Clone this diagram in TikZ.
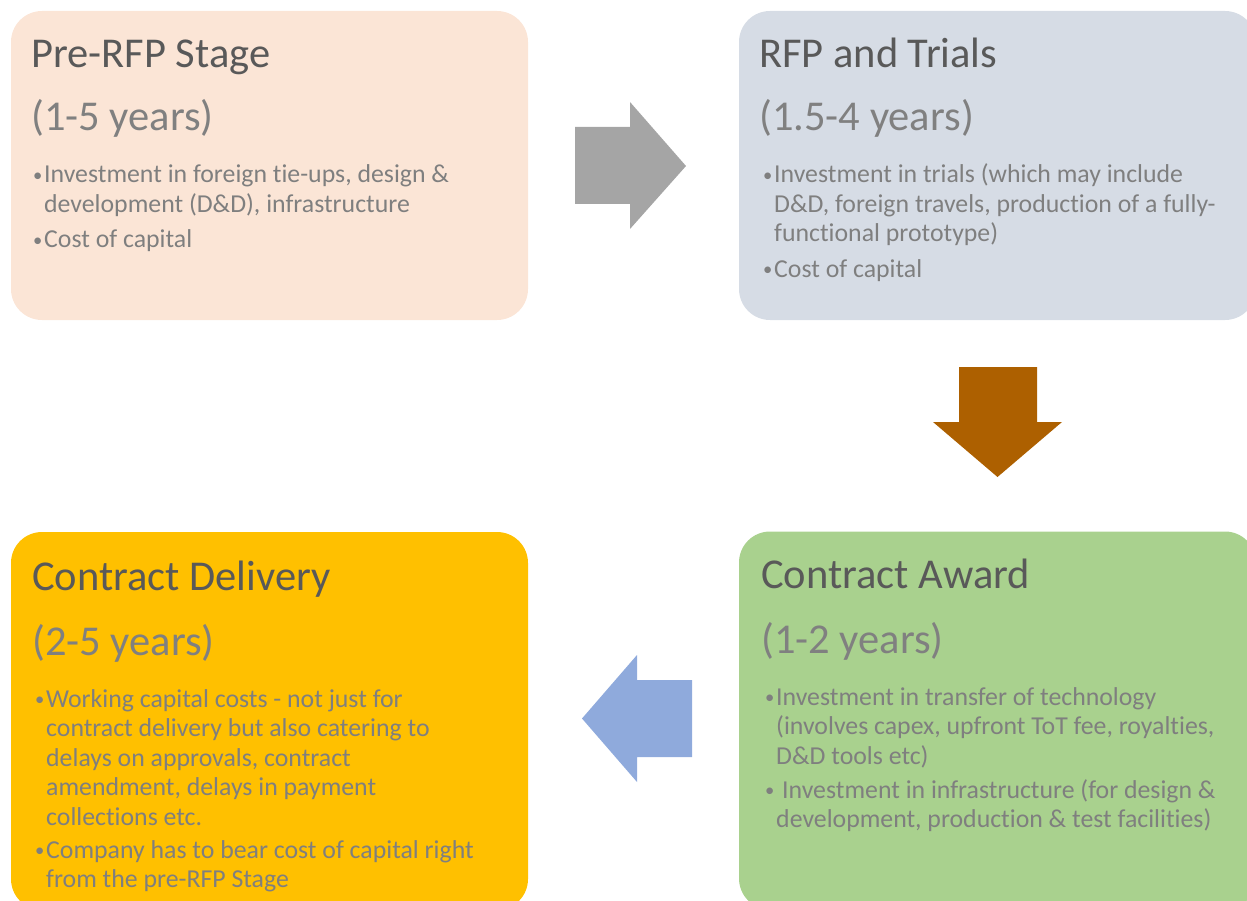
\documentclass[tikz,border=0pt]{standalone}
\usepackage{fontspec}
\setmainfont{Carlito}[Ligatures={NoCommon}]
\usepackage{graphicx}
\definecolor{boxA}{HTML}{FBE5D6}
\definecolor{boxB}{HTML}{D6DCE5}
\definecolor{boxC}{HTML}{FFC000}
\definecolor{boxD}{HTML}{A9D18E}
\definecolor{arrGray}{HTML}{A5A5A5}
\definecolor{arrBrown}{HTML}{AD6000}
\definecolor{arrBlue}{HTML}{8FAADC}
\definecolor{titleCol}{HTML}{595959}
\definecolor{yearCol}{HTML}{808080}
\definecolor{bulCol}{HTML}{7F7F7F}
\newcommand\mybul[1]{\makebox[11pt][l]{\raisebox{1.8pt}{\scalebox{0.72}{\textbullet}}}\begin{tabular}[t]{@{}l@{}}#1\end{tabular}}
\begin{document}
\begin{tikzpicture}[x=1pt,y=-1pt,
  stagebox/.style={rounded corners=31pt, minimum width=517pt, inner sep=0pt, draw=none},
  titletext/.style={anchor=base west, inner sep=0pt, text=titleCol, font=\fontsize{42.5}{50}\selectfont},
  yeartext/.style={anchor=base west, inner sep=0pt, text=yearCol, font=\fontsize{42.5}{50}\selectfont},
  bultext/.style={anchor=base west, inner sep=0pt, text=bulCol, font=\fontsize{25.8}{29.5}\selectfont}]
\useasboundingbox (0,0) rectangle (1247,901);
\clip (0,0) rectangle (1247,901);
% boxes
\node[stagebox, fill=boxA, minimum height=309pt] (b1) at (269.5,165.5) {};
\node[stagebox, fill=boxB, minimum height=309pt] (b2) at (997.5,165.5) {};
\node[stagebox, fill=boxC, minimum height=378pt] (b3) at (269.5,721) {};
\node[stagebox, fill=boxD, minimum height=378pt] (b4) at (997.5,720.5) {};
% arrows
\fill[arrGray] (575,127) -- (630,127) -- (630,102) -- (686,166) -- (630,229) -- (630,204) -- (575,204) -- cycle;
\fill[arrBrown] (959,367) -- (1037,367) -- (1037,422) -- (1062,422) -- (997.5,477) -- (933,422) -- (959,422) -- cycle;
\fill[arrBlue] (692,680) -- (637,680) -- (637,655) -- (582,718.5) -- (637,782) -- (637,757) -- (692,757) -- cycle;
% box 1
\node[titletext] (t1) at (31,68) {Pre-RFP Stage};
\node[yeartext] (y1) at (31,131) {(1-5 years)};
\node[bultext] (p1a) at (33,183) {\mybul{Investment in foreign tie-ups, design \&\\development (D\&D), infrastructure}};
\node[bultext] (p1b) at (33,248) {\mybul{Cost of capital}};
% box 2
\node[titletext] (t2) at (759,68) {RFP and Trials};
\node[yeartext] (y2) at (759,131) {(1.5-4 years)};
\node[bultext] (p2a) at (763,183) {\mybul{Investment in trials (which may include\\D\&D, foreign travels, production of a fully-\\functional prototype)}};
\node[bultext] (p2b) at (763,277) {\mybul{Cost of capital}};
% box 3
\node[titletext] (t3) at (32,590) {Contract Delivery};
\node[yeartext] (y3) at (32,655) {(2-5 years)};
\node[bultext] (p3a) at (35,707) {\mybul{Working capital costs - not just for\\contract delivery but also catering to\\delays on approvals, contract\\amendment, delays in payment\\collections etc.}};
\node[bultext] (p3b) at (35,858) {\mybul{Company has to bear cost of capital right\\from the pre-RFP Stage}};
% box 4
\node[titletext] (t4) at (761,588) {Contract Award};
\node[yeartext] (y4) at (761,653) {(1-2 years)};
\node[bultext] (p4a) at (765,705) {\mybul{Investment in transfer of technology\\(involves capex, upfront ToT fee, royalties,\\D\&D tools etc)}};
\node[bultext] (p4b) at (765,798) {\mybul{\hspace{6pt}Investment in infrastructure (for design \&\\development, production \& test facilities)}};
\end{tikzpicture}
\end{document}
